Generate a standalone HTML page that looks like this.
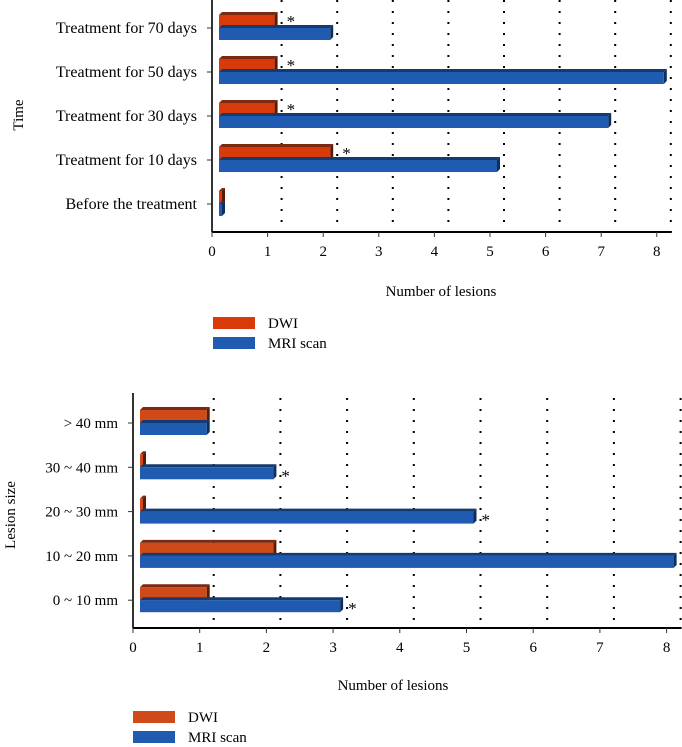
<!DOCTYPE html>
<html><head><meta charset="utf-8"><style>
body{margin:0;background:#fff;}
svg{display:block;font-family:"Liberation Serif",serif;}
</style></head><body>
<svg id="c" width="682" height="747"></svg>
<script>
const cats1=["Treatment for 70 days","Treatment for 50 days","Treatment for 30 days","Treatment for 10 days","Before the treatment"];
const dwi1=[1,1,1,2,0];
const mri1=[2,8,7,5,0];
const star1=[true,true,true,true,false];
const cats2=["> 40 mm","30 ~ 40 mm","20 ~ 30 mm","10 ~ 20 mm","0 ~ 10 mm"];
const dwi2=[1,0,0,2,1];
const mri2=[1,2,5,8,3];
const star2=[false,true,true,true,true];
const ticks=[0,1,2,3,4,5,6,7,8];
const NS="http://www.w3.org/2000/svg";
const svg=document.getElementById('c');
function mk(t,a,p){const e=document.createElementNS(NS,t);for(const k in a)e.setAttribute(k,a[k]);(p||svg).appendChild(e);return e;}
function chart(o){
  const g=mk('g',{});
  
  
  const X=v=>o.x0+v*o.unit;
  ticks.slice(1).forEach(t=>{
    const l=mk('line',{x1:X(t)+o.gOff,x2:X(t)+o.gOff,y1:o.top,y2:o.axisY,stroke:'#000','stroke-width':2,'stroke-dasharray':'2 9'},g);
    
    
  });
  o.cats.forEach((c,i)=>{
    const cy=o.cy0+i*o.step;
    const bx=o.x0+o.bOff;
    const d=o.dwi[i],m=o.mri[i];
    const dw=Math.max(d*o.unit,3),mw=Math.max(m*o.unit,3);
    const dg=mk('g',{},g);
    
    
    mk('polygon',{points:`${bx},${cy-13} ${bx+3},${cy-16} ${bx+dw+3},${cy-16} ${bx+dw},${cy-13}`,fill:'#7a2a10'},dg);
    mk('polygon',{points:`${bx+dw},${cy-13} ${bx+dw+3},${cy-16} ${bx+dw+3},${cy-3} ${bx+dw},${cy}`,fill:'#5a1a08'},dg);
    mk('rect',{x:bx,y:cy-13,width:dw,height:13,fill:o.dcol},dg);
    const mg=mk('g',{},g);
    
    
    mk('polygon',{points:`${bx},${cy} ${bx+3},${cy-3} ${bx+mw+3},${cy-3} ${bx+mw},${cy}`,fill:'#143a70'},mg);
    mk('polygon',{points:`${bx+mw},${cy} ${bx+mw+3},${cy-3} ${bx+mw+3},${cy+9} ${bx+mw},${cy+12}`,fill:'#0e2e5c'},mg);
    mk('rect',{x:bx,y:cy,width:mw,height:12,fill:'#1f5bb0'},mg);
    if(o.star[i]){
      const sx=o.starAfterMri?bx+mw+8:bx+dw+12;
      const sy=o.starAfterMri?cy+14:cy-1;
      const s=mk('text',{x:sx,y:sy,'font-size':17,'text-anchor':'start'},g);s.textContent='*';
      
      
    }
    mk('line',{x1:o.x0-5,x2:o.x0,y1:cy,y2:cy,stroke:'#333'},g);
    const t=mk('text',{x:o.x0-15,y:cy+5,'font-size':o.catFs,'text-anchor':'end'},g);t.textContent=c;
    
    
  });
  mk('line',{x1:o.x0,x2:o.x0,y1:o.top-5,y2:o.axisY,stroke:'#333','stroke-width':2},g);
  mk('line',{x1:o.x0,x2:X(8)+15,y1:o.axisY,y2:o.axisY,stroke:'#000','stroke-width':2},g);
  ticks.forEach(t=>{
    mk('line',{x1:X(t),x2:X(t),y1:o.axisY,y2:o.axisY+5,stroke:'#333'},g);
    const l=mk('text',{x:X(t),y:o.axisY+24,'font-size':15,'text-anchor':'middle'},g);l.textContent=t;
    
    
  });
  const xt=mk('text',{x:o.xtX,y:o.xtY,'font-size':15,'text-anchor':'middle'},g);xt.textContent='Number of lesions';
  
  
  const yt=mk('text',{x:0,y:0,'font-size':15,'text-anchor':'middle',transform:`translate(${o.ytX},${o.ytY}) rotate(-90)`},g);yt.textContent=o.yt;
  
  
  [['DWI',o.dcol],['MRI scan','#1f5bb0']].forEach((e,k)=>{
    const lg=mk('g',{},g);
    
    
    const y=o.legY+k*20;
    mk('rect',{x:o.legX,y:y-6,width:42,height:12,fill:e[1]},lg);
    const t=mk('text',{x:o.legX+55,y:y+5,'font-size':15},lg);t.textContent=e[0];
  });
}
chart({name:'chart-time',cats:cats1,dwi:dwi1,mri:mri1,star:star1,x0:212,unit:55.6,bOff:7,gOff:14,top:0,axisY:232,cy0:28,step:44,dcol:'#d83a0a',starAfterMri:false,catFs:16,xtX:441,xtY:296,yt:'Time',ytX:23,ytY:115,legX:213,legY:323});
chart({name:'chart-lesion-size',cats:cats2,dwi:dwi2,mri:mri2,star:star2,x0:133,unit:66.7,bOff:7,gOff:14,top:398,axisY:628,cy0:423,step:44.3,dcol:'#cf4a18',starAfterMri:true,catFs:15,xtX:393,xtY:690,yt:'Lesion size',ytX:15,ytY:515,legX:133,legY:717});
</script>
</body></html>
